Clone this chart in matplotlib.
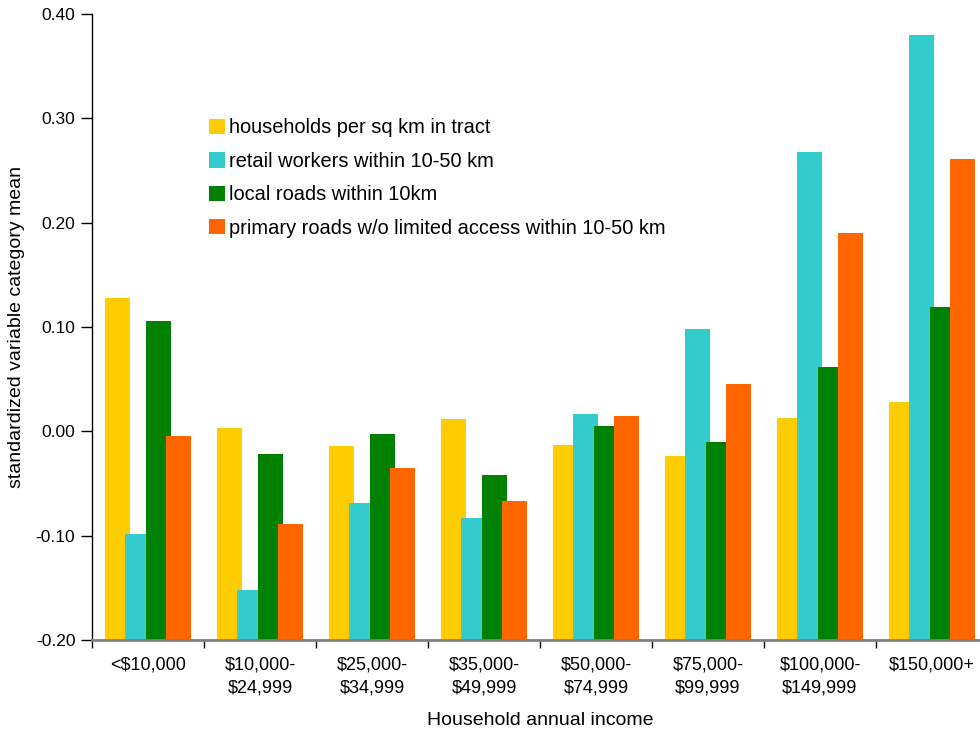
import matplotlib
matplotlib.use('Agg')
import matplotlib.pyplot as plt
import numpy as np

# categorias de ingreso
categorias = ['<$10,000', '$10,000-\n$24,999', '$25,000-\n$34,999', '$35,000-\n$49,999',
              '$50,000-\n$74,999', '$75,000-\n$99,999', '$100,000-\n$149,999', '$150,000+']

hogares = [0.128, 0.003, -0.014, 0.012, -0.013, -0.024, 0.013, 0.028]
minoristas = [-0.098, -0.152, -0.069, -0.083, 0.017, 0.098, 0.268, 0.380]
calles_locales = [0.106, -0.022, -0.003, -0.042, 0.005, -0.010, 0.062, 0.119]
rutas_primarias = [-0.004, -0.089, -0.035, -0.067, 0.015, 0.045, 0.190, 0.261]

nombres = ['households per sq km in tract',
           'retail workers within 10-50 km',
           'local roads within 10km',
           'primary roads w/o limited access within 10-50 km']
colores = ['#FFCC00', '#33CCCC', '#008000', '#FF6600']

piso = -0.20
angosta = ['Liberation Sans Narrow', 'Liberation Sans', 'DejaVu Sans']
plt.rcParams['font.family'] = ['Liberation Sans', 'DejaVu Sans']

fig = plt.figure(figsize=(9.8, 7.31), dpi=100)
ax = fig.add_axes([92/980, 1 - 640/731, 896/980, 626/731])

x = np.arange(len(categorias))
paso = 0.182
ancho = 0.223
series = [hogares, minoristas, calles_locales, rutas_primarias]
for i, (valores, nombre, color) in enumerate(zip(series, nombres, colores)):
    v = np.array(valores)
    # las barras arrancan desde el piso del eje, no desde cero
    ax.bar(x + (i - 1.5) * paso, v - piso, bottom=piso, width=ancho,
           color=color, label=nombre, linewidth=0)

ax.set_xlim(-0.5, 7.5)
ax.set_ylim(-0.20, 0.40)
ax.set_yticks(np.arange(-0.2, 0.401, 0.1))
ax.set_yticklabels([f'{t:.2f}' for t in np.arange(-0.2, 0.401, 0.1)], fontsize=12.5)

ax.set_xticks(np.arange(-0.5, 8.0, 1.0))
ax.set_xticklabels([])
ax.set_xticks(x, minor=True)
ax.set_xticklabels(categorias, minor=True, fontsize=13, family=angosta, linespacing=1.45)
ax.tick_params(axis='x', which='minor', length=0, pad=12)
ax.tick_params(axis='x', which='major', length=6, width=1, color='black')
ax.tick_params(axis='y', length=8, width=1, pad=4)

for lado in ['top', 'right']:
    ax.spines[lado].set_visible(False)
ax.spines['bottom'].set_color('#808080')
ax.spines['bottom'].set_linewidth(2)
ax.spines['left'].set_linewidth(1)

ax.set_xlabel('Household annual income', fontsize=14, family=angosta, labelpad=11)
ax.set_ylabel('standardized variable category mean', fontsize=14, family=angosta, labelpad=8)

ax.legend(loc='upper left', bbox_to_anchor=(0.1213, 0.846), frameon=False, fontsize=14.4,
          handlelength=0.8, handleheight=0.8, handletextpad=0.2, labelspacing=0.72,
          borderaxespad=0)

fig.savefig('out.png', dpi=100)
